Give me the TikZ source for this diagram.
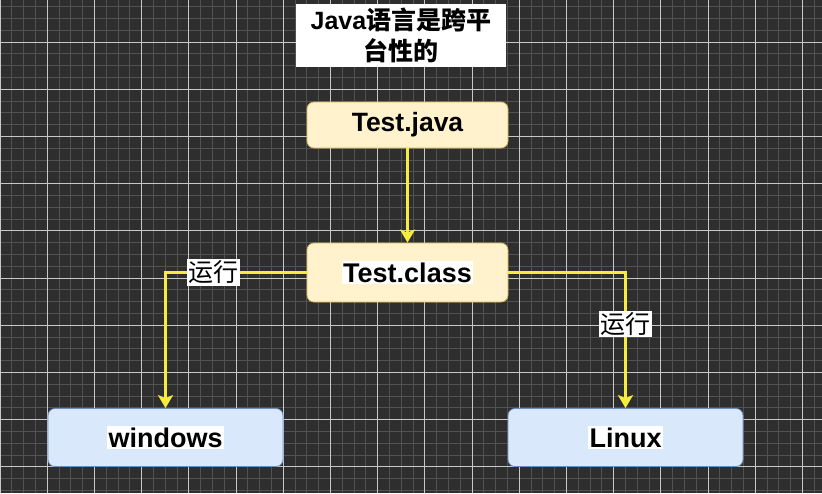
\documentclass[tikz,border=0pt]{standalone}
\usepackage{fontspec}
\setmainfont{Liberation Sans}
\newfontfamily\cjk{Noto Sans CJK SC}
\usetikzlibrary{arrows.meta}
\definecolor{bgc}{HTML}{2E2E2E}
\definecolor{minorc}{HTML}{525252}
\definecolor{majorc}{HTML}{C8C8C8}
\definecolor{arrowc}{HTML}{F6EC3E}
\definecolor{yfill}{HTML}{FFF2CC}
\definecolor{ydraw}{HTML}{D6B656}
\definecolor{bfill}{HTML}{DAE8FC}
\definecolor{bdraw}{HTML}{6C8EBF}
\tikzset{
  minorline/.style={minorc, line width=0.8pt},
  majorline/.style={majorc, line width=0.9pt},
  ybox/.style={draw=ydraw, fill=yfill, line width=0.8pt, rounded corners=7pt, minimum width=201pt, minimum height=46pt, inner sep=0pt, font=\fontsize{26.5}{30}\selectfont\bfseries},
  bbox/.style={draw=bdraw, fill=bfill, line width=0.8pt, rounded corners=7pt, minimum width=235pt, minimum height=58pt, inner sep=0pt, font=\fontsize{27}{30}\selectfont\bfseries},
  titlebox/.style={fill=white, minimum width=210pt, minimum height=63pt, inner sep=0pt, align=center, font=\fontsize{25}{31}\selectfont\bfseries},
  flow/.style={arrowc, line width=2.6pt, -{Stealth[length=13pt,width=15pt,inset=3pt]}},
  lbl/.style={fill=white, text=black, inner sep=1.5pt, font=\fontsize{25}{28}\selectfont\cjk}
}
\newcommand{\wbg}[1]{{\setlength{\fboxsep}{1.5pt}\colorbox{white}{#1}}}
\begin{document}
\begin{tikzpicture}[x=1pt,y=-1pt]
\useasboundingbox (0,0) rectangle (822,493);
\fill[bgc] (0,0) rectangle (822,493);
\begin{scope}
\clip (0,0) rectangle (822,493);
\foreach \i in {0,...,70} \draw[minorline] (\i*11.8,0) -- (\i*11.8,493);
\foreach \j in {-1,...,42} \draw[minorline] (0,6.6+\j*11.8) -- (822,6.6+\j*11.8);
\foreach \i in {0,...,17} \draw[majorline] (\i*47.2,0) -- (\i*47.2,493);
\foreach \j in {-1,...,10} \draw[majorline] (0,42+\j*47.2) -- (822,42+\j*47.2);
\end{scope}

\node[titlebox] (title) at (401,35) {Java{\cjk 语言是跨平}\\{\cjk 台性的}};
\node[ybox] (tj) at (407.5,125) {Test.java};
\node[ybox, minimum height=59pt, font=\fontsize{27}{30}\selectfont\bfseries] (tc) at (407.5,272.5) {\wbg{Test.class}};
\node[bbox] (win) at (165.5,437.5) {\wbg{windows}};
\node[bbox] (lin) at (625.5,437.5) {\wbg{Linux}};

\draw[flow] (tj.south) -- (tc.north);
\draw[flow] (tc.west) -| node[lbl, pos=0.33] {运行} (win.north);
\draw[flow] (tc.east) -| node[lbl, pos=0.69] {运行} (lin.north);
\end{tikzpicture}
\end{document}
